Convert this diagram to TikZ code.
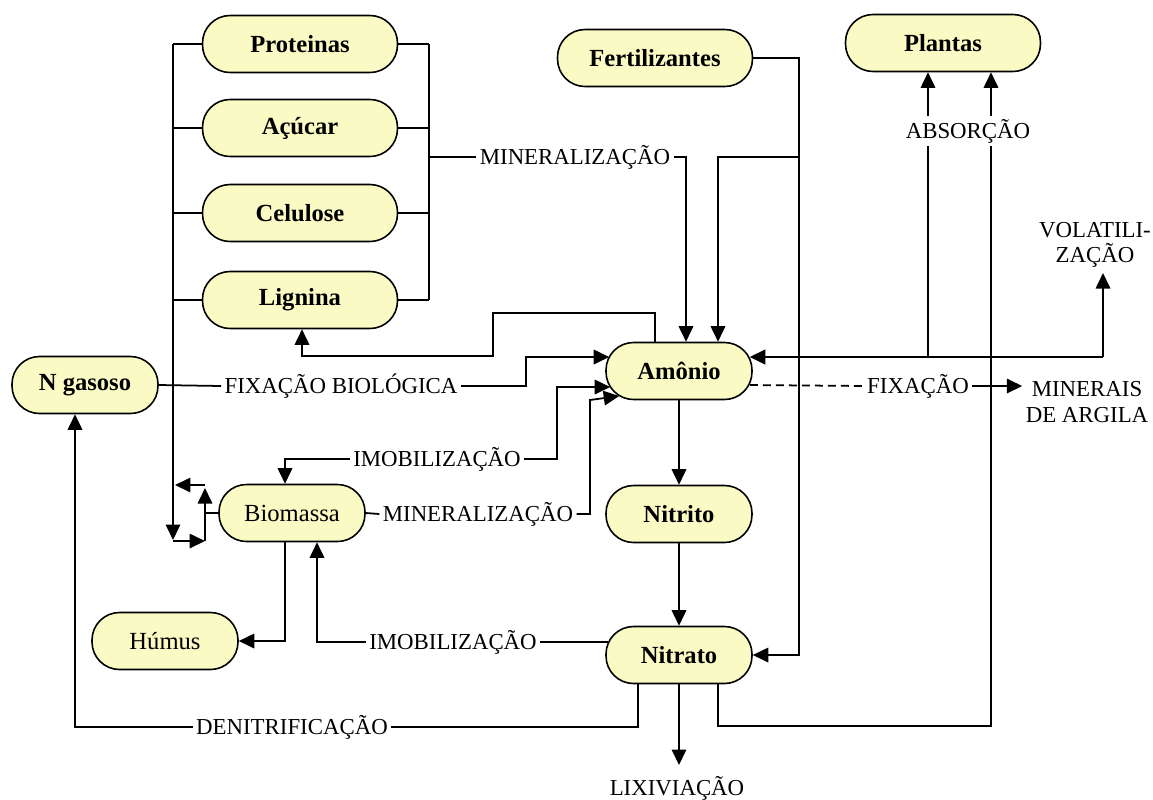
\documentclass[tikz,border=0pt]{standalone}
\usepackage{fontspec}
\setmainfont{Liberation Serif}
\usetikzlibrary{arrows.meta}
\definecolor{amarelo}{RGB}{250,250,196}

\begin{document}
\begin{tikzpicture}[x=0.02cm,y=-0.02cm,line width=1pt,
  caixa/.style={draw,line width=0.9pt,fill=amarelo,rounded corners=0.55cm,minimum width=2.92cm,minimum height=1.14cm,inner sep=0pt,font=\fontsize{14}{16}\selectfont\bfseries},
  caixalarga/.style={caixa,minimum width=3.9cm},
  leve/.style={font=\fontsize{14}{16}\selectfont},
  rotulo/.style={inner sep=1.5pt,font=\fontsize{13}{14.5}\selectfont,align=center},
  seta/.style={-{Triangle[length=0.31cm,width=0.29cm]}}]
\useasboundingbox (0,0) rectangle (1153,799);
% caixas
\node[caixalarga] (prot) at (300,44) {Proteinas};
\node[caixalarga] (acucar) at (300,128) {Açúcar};
\node[caixalarga] (celul) at (300,213) {Celulose};
\node[caixalarga] (lign) at (300,300) {Lignina};
\node[caixalarga] (fert) at (655,58) {Fertilizantes};
\node[caixalarga] (plantas) at (943,43) {Plantas};
\node[caixa] (amonio) at (679,371) {Amônio};
\node[caixa] (nitrito) at (679,514) {Nitrito};
\node[caixa] (nitrato) at (679,655) {Nitrato};
\node[caixa] (ngas) at (85,385) {N gasoso};
\node[caixa,leve] (bio) at (292,513) {Biomassa};
\node[caixa,leve] (humus) at (165,641) {Húmus};
% rotulos
\node[rotulo] (min1) at (575,157) {MINERALIZAÇÃO};
\node[rotulo] (fixbio) at (341,386) {FIXAÇÃO BIOLÓGICA};
\node[rotulo] (imob1) at (437,459) {IMOBILIZAÇÃO};
\node[rotulo] (min2) at (478,514) {MINERALIZAÇÃO};
\node[rotulo] (imob2) at (453,642) {IMOBILIZAÇÃO};
\node[rotulo] (denit) at (292,727) {DENITRIFICAÇÃO};
\node[rotulo] (lix) at (677,788) {LIXIVIAÇÃO};
\node[rotulo] (volat) at (1095,245) {VOLATILI-\\ZAÇÃO};
\node[rotulo] (fix) at (918,386) {FIXAÇÃO};
\node[rotulo] (minarg) at (1087,402) {MINERAIS\\DE ARGILA};
% barramentos da materia organica
\coordinate (esq) at (173,44);
\coordinate (dir) at (429,44);
\foreach \n in {prot,acucar,celul,lign}{
  \draw (\n.west) -- (\n.west -| esq);
  \draw (\n.east) -- (\n.east -| dir);
}
\draw (prot.east -| dir) -- (lign.east -| dir);
\draw[seta] (esq) -- (173,540);
\draw (dir |- min1.west) -- (min1.west);
\draw[seta] (min1.east) -| (amonio.north -| 686,0);
% fertilizantes
\coordinate (fd) at (799,58);
\draw[seta] (fert.east) -| (fd |- nitrato.east) -- (nitrato.east);
\draw[seta] (fd |- 0,157) -| (amonio.north -| 718,0);
% amonio -> lignina
\draw[seta] (amonio.north -| 655,0) |- (493,313) |- (302,356) -- (lign.south -| 302,0);
% fixacao biologica
\draw (ngas.east) -- (fixbio.west);
\draw[seta] (fixbio.east) -| (526,357) -- ([shift={(4,-14)}]amonio.west);
% biomassa <-> amonio
\draw[seta] (imob1.west) -| (bio.north -| 285,0);
\draw[seta] (imob1.east) -| (557,387) -- ([shift={(5,16)}]amonio.west);
\draw (bio.east) -- (min2.west);
\draw[seta] (min2.east) -| (590,400) -- ([shift={(14,25)}]amonio.west);
% laco da biomassa
\coordinate (lp) at (205,513);
\draw (bio.west) -- (lp);
\draw[seta] (lp) -- (205,488);
\draw[seta] (205,485) -- (175,485);
\draw[seta] (173,541) -- (205,541);
\draw (205,541) -- (lp);
% humus e imobilizacao do nitrato
\draw[seta] (bio.south -| 285,0) |- (humus.east);
\draw ([shift={(3,-13)}]nitrato.west) -- (imob2.east);
\draw[seta] (imob2.west) -| (bio.south -| 317,0);
% nitrificacao
\draw[seta] (amonio.south) -- (nitrito.north);
\draw[seta] (nitrito.south) -- (nitrato.north);
\draw[seta] (nitrato.south) -- (nitrato.south |- 0,765);
% denitrificacao
\draw (nitrato.south -| 638,0) |- (denit.east);
\draw[seta] (denit.west) -| (ngas.south -| 75,0);
% lado direito do amonio
\coordinate (j1) at (928,357);
\coordinate (j2) at (1103,357);
\draw[seta,line width=1.5pt] (j2) -- ([shift={(-3,-14)}]amonio.east);
\draw[seta] (j2) -- (j2 |- 0,273);
\draw[seta] (j1) -- (plantas.south -| j1);
\draw[seta] (nitrato.south -| 718,0) |- (991,726) -- (plantas.south -| 991,0);
\draw[dash pattern=on 0.16cm off 0.1cm] ([shift={(-3,14)}]amonio.east) -- (fix.west);
\draw[seta] (fix.east) -- (minarg.west |- fix.east);
\node[rotulo,fill=white] (absor) at (968,131) {ABSORÇÃO};
\end{tikzpicture}
\end{document}
